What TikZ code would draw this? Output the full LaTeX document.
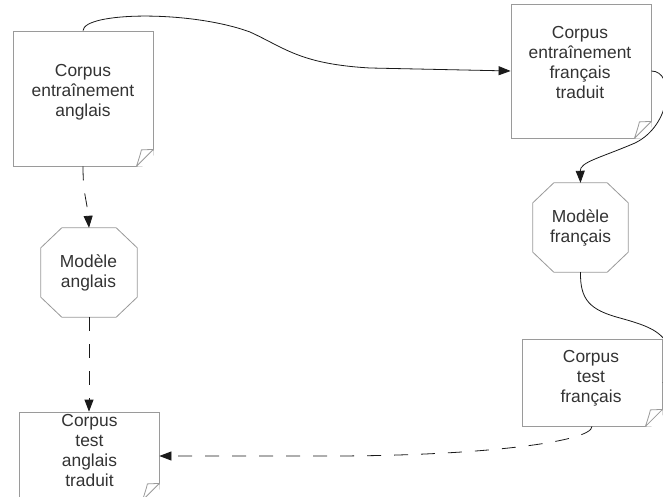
\documentclass[tikz,border=0pt]{standalone}
\usepackage{fontspec}
\setmainfont{Liberation Sans}
\usetikzlibrary{arrows.meta,calc}
\definecolor{txt}{HTML}{333333}
\definecolor{bord}{HTML}{9A9A9A}
\definecolor{ln}{HTML}{1A1A1A}
\newcommand{\docfold}[1]{%
  \fill[white] ($(#1.south east)+(0,-17)$) -- ($(#1.south east)+(1,1)$) -- ($(#1.south east)+(-17,0)$) -- cycle;
  \draw[bord,line width=0.8pt,line join=round] ($(#1.south east)+(0,-17)$) -- ($(#1.south east)+(-17,0)$)
    .. controls ($(#1.south east)+(-15,-6)$) and ($(#1.south east)+(-13,-12)$) .. ($(#1.south east)+(-12,-16.5)$) -- cycle;}
\newcommand{\octo}[1]{%
  \draw[bord,line width=0.8pt,fill=white] ($(#1.north west)+(21,0)$) -- ($(#1.north east)+(-21,0)$) -- ($(#1.north east)+(0,20)$)
    -- ($(#1.south east)+(0,-20)$) -- ($(#1.south east)+(-21,0)$) -- ($(#1.south west)+(21,0)$)
    -- ($(#1.south west)+(0,-20)$) -- ($(#1.north west)+(0,20)$) -- cycle;}
\begin{document}
\begin{tikzpicture}[x=1pt,y=-1pt,
  doc/.style={draw=bord, line width=0.8pt, fill=white, minimum width=140pt, inner sep=0pt},
  octbox/.style={minimum width=96pt, minimum height=89pt, inner sep=0pt},
  lbl/.style={text=txt, font=\fontsize{17.4}{20}\selectfont, align=center, inner sep=0pt},
  conn/.style={draw=ln, line width=0.8pt, -{Triangle[length=12pt,width=9pt]}},
  dashconn/.style={conn, dash pattern=on 14pt off 13pt}]
\useasboundingbox (0,0) rectangle (663,497);
\clip (0,0) rectangle (663,497);
\fill[white] (0,0) rectangle (663,497);
% documents
\node[doc, minimum height=135pt] (CEA) at (83,98.5) {};
\node[doc, minimum height=134pt] (CEF) at (581,71) {};
\node[doc, minimum height=87pt] (CTF) at (592,382.5) {};
\node[doc, minimum height=88pt] (CTA) at (89,456) {};
\docfold{CEA}\docfold{CEF}\docfold{CTF}\docfold{CTA}
% models
\node[octbox] (MA) at (89,272.5) {};
\node[octbox, minimum width=95pt] (MF) at (580.5,227.5) {};
\octo{MA}\octo{MF}
% labels
\node[lbl] (tCEA) at (83,92) {Corpus\\entraînement\\anglais};
\node[lbl] (tCEF) at (580,63) {Corpus\\entraînement\\français\\traduit};
\node[lbl] (tCTF) at (591,378) {Corpus\\test\\français};
\node[lbl] (tCTA) at (89.5,451) {Corpus\\test\\anglais\\traduit};
\node[lbl] (tMA) at (88.5,273) {Modèle\\anglais};
\node[lbl] (tMF) at (580.5,228) {Modèle\\français};
% connectors
\draw[conn] (CEA.north) .. controls (84,12) and (190,10) .. (250,32)
  .. controls (285,48) and (300,64) .. (370,68) -- (CEF.west);
\draw[conn] (CEF.east) .. controls (675,71) and (672,125) .. (635,143)
  .. controls (600,158) and (580,162) .. (MF.north);
\draw[conn] (MF.south) .. controls (580,300) and (590,310) .. (620,318)
  .. controls (645,325) and (660,330) .. (668,345)
  .. controls (676,365) and (680,382.5) .. (CTF.east);
\draw[dashconn] (CTF.south) .. controls (592,442) and (480,456) .. (330,456) -- (CTA.east);
\draw[dashconn] (CEA.south) .. controls (83,195) and (87,200) .. (MA.north);
\draw[dashconn] (MA.south) -- (CTA.north);
\end{tikzpicture}
\end{document}
